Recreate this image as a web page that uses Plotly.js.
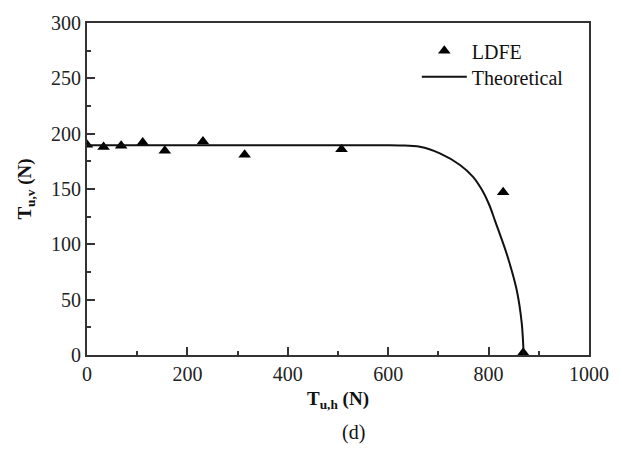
<!DOCTYPE html>
<html>
<head>
<meta charset="utf-8">
<script src="https://cdn.plot.ly/plotly-3.0.1.min.js"></script>
<style>html,body{margin:0;padding:0;background:#fff;}#chart{width:622px;height:449px;}</style>
</head>
<body>
<div id="chart"></div>
<script>
// LDFE simulation points
var ldfeX = [0, 33, 68, 111, 155, 231, 314, 507, 829, 869];
var ldfeY = [190, 188, 189, 192, 184.5, 193, 181, 186, 147, 2];
// Theoretical curve
var theoX = [0, 560, 600, 623, 663, 703, 743, 769, 787, 801, 813, 838, 856, 866, 869.5, 870];
var theoY = [189.5, 189.5, 189.5, 189.3, 188.2, 182.2, 171.7, 161, 149, 136, 121, 88.6, 58.7, 28.9, 4.5, 0];
var xTicks = [0, 200, 400, 600, 800, 1000];
var yTicks = [0, 50, 100, 150, 200, 250, 300];

var serif = 'Liberation Serif';
var traces = [
  {x: ldfeX, y: ldfeY, type: 'scatter', mode: 'markers', name: 'LDFE', legend: 'legend',
   marker: {symbol: 'triangle-up', size: 11, color: '#000'}},
  {x: theoX, y: theoY, type: 'scatter', mode: 'lines', name: 'Theoretical', legend: 'legend2',
   line: {color: '#111', width: 2, shape: 'spline', smoothing: 1}}
];
var axisCommon = {
  showgrid: false, zeroline: false, showline: true, linecolor: '#333', linewidth: 2,
  mirror: true, ticks: 'inside', ticklen: 8, tickwidth: 2, tickcolor: '#333',
  tickfont: {family: serif, size: 20, color: '#222'},
  minor: {ticks: 'inside', ticklen: 4, tickwidth: 2, tickcolor: '#333'}
};
var legendCommon = {xanchor: 'left', yanchor: 'top', bgcolor: 'rgba(0,0,0,0)',
  font: {family: serif, size: 20, color: '#111'}, itemwidth: 45};
var layout = {
  width: 622, height: 449,
  margin: {l: 87, r: 33, t: 23, b: 94},
  paper_bgcolor: '#fff', plot_bgcolor: '#fff',
  font: {family: serif, color: '#111'},
  xaxis: Object.assign({}, axisCommon, {
    range: [0, 1000], tickvals: xTicks, ticktext: xTicks.map(String),
    minor: Object.assign({}, axisCommon.minor, {dtick: 100, tick0: 0}),
    title: {text: '<b>T<sub>u,h</sub> (N)</b>', font: {family: serif, size: 19, color: '#111'}, standoff: 8}
  }),
  yaxis: Object.assign({}, axisCommon, {
    range: [0, 300], tickvals: yTicks, ticktext: yTicks.map(String),
    minor: Object.assign({}, axisCommon.minor, {dtick: 25, tick0: 0}),
    title: {text: '<b>T<sub>u,v</sub> (N)</b>', font: {family: serif, size: 19, color: '#111'}, standoff: 14}
  }),
  showlegend: true,
  legend: Object.assign({x: 0.657, y: 0.975}, legendCommon),
  legend2: Object.assign({x: 0.657, y: 0.897}, legendCommon),
  annotations: [
    {text: '(d)', xref: 'paper', yref: 'paper', x: 0.53, y: -0.232, showarrow: false,
     xanchor: 'center', yanchor: 'middle', font: {family: serif, size: 20, color: '#111'}}
  ]
};
Plotly.newPlot('chart', traces, layout, {displayModeBar: false, staticPlot: true});
</script>
</body>
</html>
